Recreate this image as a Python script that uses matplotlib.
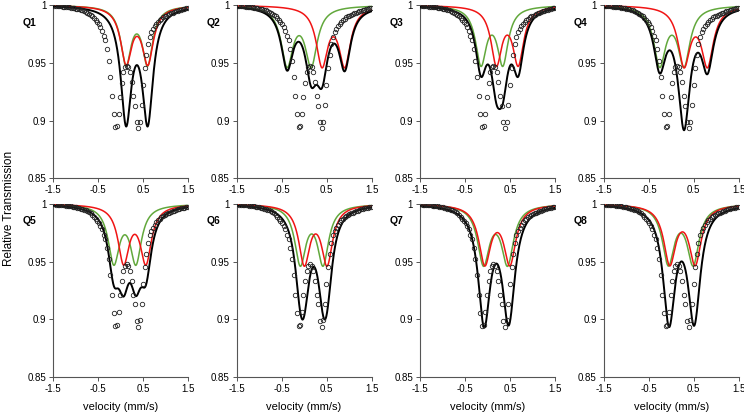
import numpy as np
import matplotlib
matplotlib.use("Agg")
import matplotlib.pyplot as plt

plt.rcParams['font.family'] = ['Liberation Sans', 'DejaVu Sans']

# measured spectrum (same points in every panel)
velocity = [
    -1.474, -1.4375, -1.401, -1.3645, -1.328, -1.2915, -1.255, -1.2185, -1.182, -1.1455,
    -1.109, -1.0725, -1.036, -0.9995, -0.963, -0.9265, -0.890, -0.8535, -0.817, -0.7805,
    -0.744, -0.7075, -0.671, -0.6345, -0.598, -0.5615, -0.525, -0.4885, -0.452, -0.4155,
    -0.379, -0.3425, -0.306, -0.2695, -0.233, -0.1965, -0.160, -0.1235, -0.087, -0.0505,
    -0.014, 0.0225, 0.059, 0.0955, 0.132, 0.1685, 0.205, 0.2415, 0.278, 0.3145,
    0.351, 0.3875, 0.424, 0.4605, 0.497, 0.5335, 0.570, 0.6065, 0.643, 0.6795,
    0.716, 0.7525, 0.789, 0.8255, 0.862, 0.8985, 0.935, 0.9715, 1.008, 1.0445,
    1.081, 1.1175, 1.154, 1.1905, 1.227, 1.2635, 1.300, 1.3365, 1.373, 1.4095,
    1.446, 1.4825,
]
transmission = [
    0.9996, 0.9995, 0.9993, 0.9992, 0.9990, 0.9989, 0.9987, 0.9985, 0.9983, 0.9981,
    0.9979, 0.9977, 0.9974, 0.9971, 0.9968, 0.9964, 0.9960, 0.9955, 0.9950, 0.9944,
    0.9937, 0.9928, 0.9918, 0.9905, 0.9886, 0.9872, 0.9855, 0.9835, 0.9810, 0.9780,
    0.9735, 0.9695, 0.9620, 0.9520, 0.9380, 0.9210, 0.9055, 0.8945, 0.8952, 0.9060,
    0.9208, 0.9330, 0.9418, 0.9466, 0.9476, 0.9462, 0.9420, 0.9335, 0.9212, 0.9130,
    0.8988, 0.8932, 0.8990, 0.9135, 0.9310, 0.9455, 0.9565, 0.9660, 0.9728, 0.9765,
    0.9795, 0.9820, 0.9840, 0.9858, 0.9872, 0.9884, 0.9894, 0.9903, 0.9911, 0.9918,
    0.9925, 0.9931, 0.9937, 0.9942, 0.9947, 0.9952, 0.9957, 0.9961, 0.9965, 0.9969,
    0.9972, 0.9975,
]

# fitted doublets per panel: centre shift, splitting, line depth, half width
panels = ["Q1", "Q2", "Q3", "Q4", "Q5", "Q6", "Q7", "Q8"]
green_shift = [0.355, -0.110, 0.097, 0.015, 0.090, 0.168, 0.178, 0.212]
green_split = [0.480, 0.535, 0.484, 0.540, 0.490, 0.506, 0.534, 0.551]
green_depth = [0.049, 0.050, 0.049, 0.050, 0.049, 0.050, 0.050, 0.050]
green_width = [0.140, 0.160, 0.145, 0.160, 0.150, 0.150, 0.160, 0.160]
red_shift = [0.360, 0.650, 0.440, 0.545, 0.310, 0.257, 0.218, 0.250]
red_split = [0.480, 0.505, 0.484, 0.520, 0.495, 0.506, 0.557, 0.566]
red_depth = [0.048, 0.050, 0.049, 0.050, 0.049, 0.050, 0.050, 0.050]
red_width = [0.150, 0.155, 0.145, 0.160, 0.150, 0.150, 0.160, 0.160]


def doublet(v, shift, split, depth, width):
    a = 0.0
    for pos in (shift - split / 2, shift + split / 2):
        a = a + depth * width ** 2 / ((v - pos) ** 2 + width ** 2)
    return a


v = np.linspace(-1.5, 1.5, 601)

fig = plt.figure(figsize=(7.44, 4.17), dpi=100)
lefts = [0.0716, 0.318, 0.5645, 0.8114]
bottoms = [0.5724, 0.0959]
w, h = 0.1815, 0.415

for i, name in enumerate(panels):
    ax = fig.add_axes([lefts[i % 4], bottoms[i // 4], w, h])
    g = doublet(v, green_shift[i], green_split[i], green_depth[i], green_width[i])
    r = doublet(v, red_shift[i], red_split[i], red_depth[i], red_width[i])
    ax.plot(v, 1 - g, color="#62a83c", lw=1.1, zorder=2)
    ax.plot(v, 1 - r, color="#f01414", lw=1.1, zorder=2)
    ax.plot(v, 1 - g - r, color="black", lw=1.4, zorder=3)
    ax.plot(velocity, transmission, "o", ms=3.2, mfc="none", mec="#222222", mew=0.6, zorder=4)

    ax.set_xlim(-1.5, 1.5)
    ax.set_ylim(0.85, 1.0)
    ax.set_xticks([-1.5, -0.5, 0.5, 1.5])
    ax.set_xticklabels(["-1.5", "-0.5", "0.5", "1.5"])
    ax.set_yticks([0.85, 0.9, 0.95, 1.0])
    ax.set_yticklabels(["0.85", "0.9", "0.95", "1"])
    ax.tick_params(labelsize=7, length=3, width=0.7, color="#555555", pad=2)
    for s in ["top", "right"]:
        ax.spines[s].set_visible(False)
    for s in ["left", "bottom"]:
        ax.spines[s].set_color("#555555")
        ax.spines[s].set_linewidth(0.8)
    ax.text(-0.225, 0.90, name, transform=ax.transAxes, fontsize=7.5,
            fontweight="bold", va="center", ha="left")
    if i >= 4:
        ax.set_xlabel("velocity (mm/s)", fontsize=8)
        ax.xaxis.set_label_coords(0.5, -0.145)

fig.text(0.012, 0.5, "Relative Transmission", rotation=90, fontsize=8.5,
         va="center", ha="center")

plt.savefig("out.png", dpi=100)
